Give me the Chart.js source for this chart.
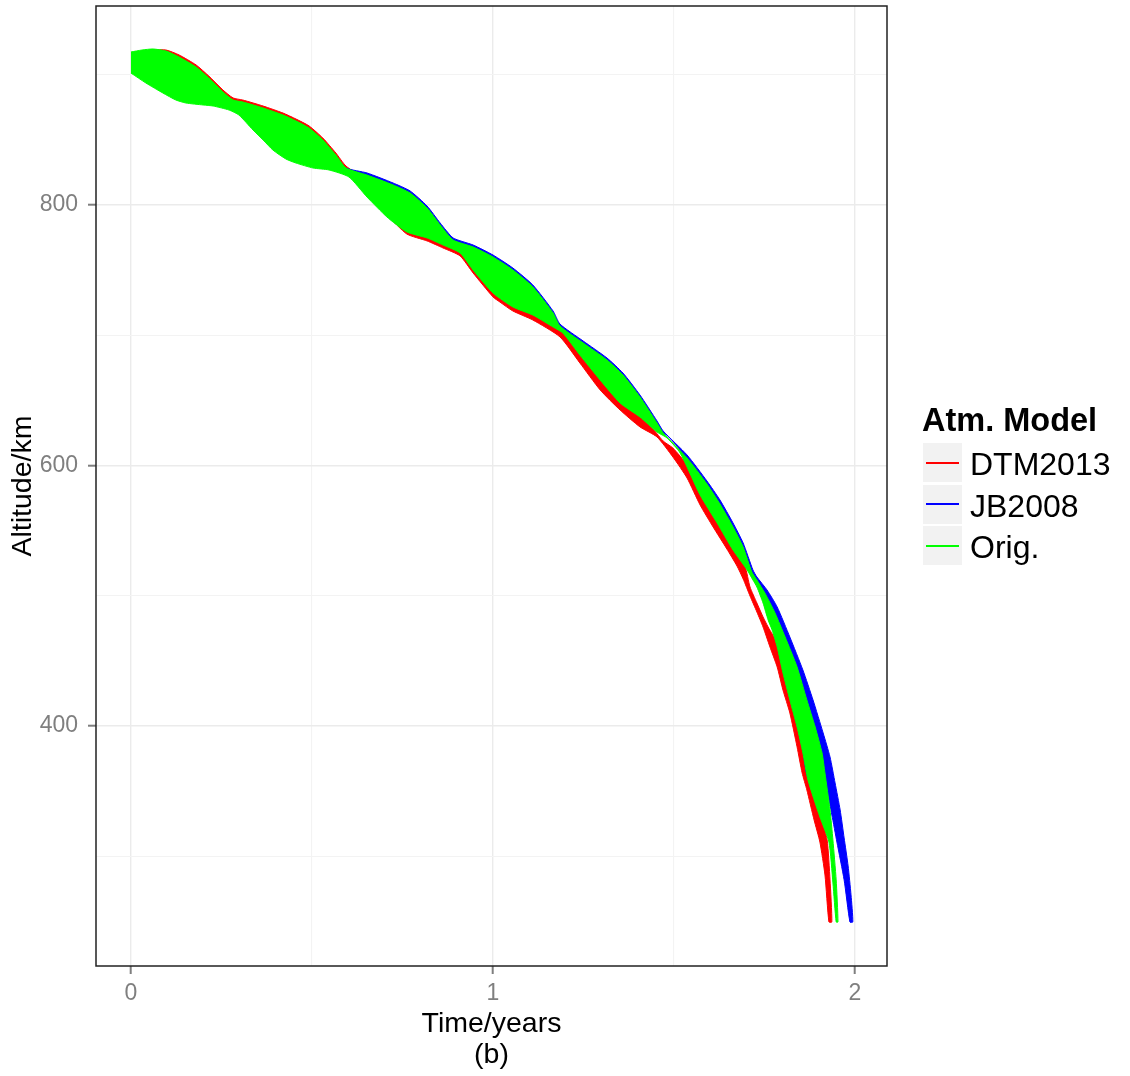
<!DOCTYPE html>
<html>
<head>
<meta charset="utf-8">
<script src="https://cdn.jsdelivr.net/npm/chart.js@4.4.1/dist/chart.umd.min.js"></script>
<style>
  html, body { margin: 0; padding: 0; background: #ffffff; }
  #wrap { position: relative; width: 1130px; height: 1076px; overflow: hidden; }
  #chart { position: absolute; left: 0; top: 0; }
  .lg { position: absolute; font-family: "Liberation Sans", Arial, sans-serif; color: #000; white-space: nowrap; }
  .lg-title { font-weight: bold; font-size: 32.5px; line-height: 32.5px; }
  .lg-key { position: absolute; background: #f2f2f2; }
  .lg-line { position: absolute; height: 2px; }
  .lg-text { font-size: 32px; line-height: 32px; }
</style>
</head>
<body>
<div id="wrap">
  <canvas id="chart" width="1130" height="1076"></canvas>
  <div id="legend"></div>
</div>
<script>
// Orbit decay envelopes (time in years, altitude in km) for each atmosphere model.
// Each envelope is given by its upper and lower edge.
const models = ['DTM2013', 'JB2008', 'Orig.'];
const modelColours = ['#ff0000', '#0000ff', '#00ff00'];

const dtmUpperT = [0,0.030,0.061,0.097,0.133,0.180,0.215,0.254,0.282,0.309,0.365,0.420,0.456,0.492,0.530,0.566,0.594,0.652,0.724,0.771,0.818,0.854,0.890,0.945,1.000,1.055,1.110,1.166,1.193,1.240,1.296,1.351,1.406,1.434,1.470,1.497,1.536,1.572,1.619,1.663,1.696,1.710,1.729,1.746,1.760,1.785,1.801,1.820,1.840,1.856,1.870,1.890,1.903,1.923,1.931,1.936];
const dtmUpperAlt = [916.7,918.2,919.0,919.0,915.2,907.5,899.0,888.3,882.2,880.6,876.0,870.6,866.0,860.7,851.4,839.9,829.9,819.2,807.7,800.0,784.7,777.0,769.3,756.2,738.6,727.1,719.4,710.2,704.0,688.7,669.5,651.8,641.1,631.1,618.8,613.4,600.4,581.2,559.7,539.0,522.8,506.7,494.4,483.7,476.0,463.7,444.5,423.8,403.1,383.1,361.6,344.7,334.0,312.5,281.8,249.5];
const dtmLowerT = [0,0.041,0.088,0.124,0.152,0.199,0.227,0.271,0.298,0.337,0.365,0.392,0.428,0.456,0.503,0.547,0.602,0.652,0.707,0.762,0.818,0.862,0.909,0.945,1.000,1.019,1.055,1.110,1.185,1.240,1.296,1.351,1.406,1.453,1.497,1.536,1.572,1.608,1.646,1.674,1.691,1.710,1.729,1.746,1.765,1.785,1.801,1.820,1.840,1.854,1.867,1.887,1.903,1.917,1.928];
const dtmLowerAlt = [902.1,895.2,887.5,882.2,879.9,878.3,877.5,874.5,870.6,859.1,851.4,843.8,836.9,833.8,829.9,828.4,823.0,807.7,792.3,777.7,772.4,767.0,760.9,747.8,729.4,725.5,718.6,711.7,698.7,678.7,658.0,642.6,629.6,621.9,606.5,590.4,569.7,552.8,535.9,522.8,512.9,499.8,487.5,476.0,460.7,445.3,427.6,410.0,383.9,363.9,350.9,327.8,310.9,285.6,249.5];

const jbUpperT = [0,0.030,0.061,0.097,0.133,0.180,0.215,0.254,0.282,0.309,0.365,0.420,0.456,0.492,0.530,0.566,0.594,0.652,0.724,0.771,0.818,0.854,0.890,0.945,1.000,1.055,1.110,1.166,1.185,1.249,1.315,1.359,1.406,1.453,1.470,1.536,1.591,1.627,1.663,1.691,1.718,1.729,1.757,1.785,1.820,1.856,1.884,1.912,1.931,1.945,1.959,1.970,1.981,1.989,1.994];
const jbUpperAlt = [915.9,917.5,918.2,916.7,912.1,904.4,896.0,885.2,879.1,877.5,872.9,867.6,863.0,857.6,848.4,836.9,828.4,824.6,816.9,810.8,799.2,786.2,774.7,769.3,761.6,751.6,738.6,718.6,708.6,695.6,682.5,671.0,654.1,634.2,626.5,608.1,588.1,573.5,555.9,540.5,519.8,514.4,504.4,491.4,468.3,443.0,420.0,394.6,376.2,356.2,335.5,314.0,292.5,270.3,249.5];
const jbLowerT = [0,0.041,0.088,0.124,0.152,0.199,0.227,0.271,0.298,0.337,0.365,0.392,0.428,0.456,0.503,0.547,0.602,0.652,0.707,0.762,0.818,0.862,0.909,0.945,1.000,1.055,1.110,1.166,1.193,1.240,1.296,1.351,1.406,1.453,1.481,1.517,1.572,1.619,1.663,1.702,1.718,1.729,1.746,1.760,1.771,1.785,1.801,1.820,1.840,1.856,1.870,1.920,1.936,1.950,1.970,1.986];
const jbLowerAlt = [903.3,895.7,888.0,882.6,880.3,878.8,878.0,874.9,871.1,859.6,851.9,844.2,837.3,834.2,830.4,828.9,823.5,808.1,792.8,781.3,776.7,771.3,765.2,752.1,734.4,723.7,717.5,708.3,703.7,686.8,667.6,650.0,639.2,627.7,623.1,611.6,579.4,557.9,537.1,521.8,514.1,508.7,496.4,483.4,475.7,462.7,442.7,422.0,401.2,381.3,360.5,350.9,331.7,310.9,281.8,249.5];

const origUpperT = [0,0.030,0.061,0.097,0.133,0.180,0.215,0.254,0.282,0.309,0.365,0.420,0.456,0.492,0.530,0.566,0.594,0.652,0.724,0.771,0.818,0.854,0.890,0.945,1.000,1.055,1.110,1.166,1.185,1.249,1.315,1.359,1.406,1.453,1.470,1.536,1.591,1.627,1.663,1.691,1.715,1.729,1.751,1.779,1.807,1.840,1.867,1.890,1.909,1.917,1.931,1.939,1.948,1.953];
const origUpperAlt = [917.5,919.0,919.8,918.2,913.6,905.9,897.5,886.8,880.6,879.1,874.5,869.1,864.5,859.1,849.9,838.4,828.4,823.0,815.4,809.2,797.7,784.7,773.1,767.8,760.1,750.1,737.1,717.1,707.1,694.1,681.0,669.5,652.6,632.6,625.0,605.8,585.8,570.4,552.8,537.4,518.2,512.1,502.1,486.8,468.3,445.3,420.0,399.2,379.3,363.9,335.5,312.5,281.8,249.5];
const origLowerT = [0,0.041,0.088,0.124,0.152,0.199,0.227,0.271,0.298,0.337,0.365,0.392,0.428,0.456,0.503,0.547,0.602,0.652,0.707,0.762,0.818,0.862,0.909,0.945,1.000,1.055,1.110,1.166,1.193,1.240,1.296,1.351,1.406,1.453,1.481,1.517,1.572,1.619,1.663,1.702,1.718,1.729,1.746,1.760,1.771,1.785,1.801,1.820,1.840,1.856,1.870,1.903,1.928,1.939,1.948];
const origLowerAlt = [901.3,893.7,886.0,880.6,878.3,876.8,876.0,872.9,869.1,857.6,849.9,842.2,835.3,832.2,828.4,826.9,821.5,806.1,790.8,779.3,774.7,769.3,763.2,750.1,732.4,721.7,715.5,706.3,701.7,684.8,665.6,648.0,637.2,625.7,621.1,609.6,577.4,555.9,535.1,519.8,512.1,506.7,494.4,481.4,473.7,460.7,440.7,420.0,399.2,379.3,358.5,330.1,310.9,279.5,249.5];

// Axis ticks
const xTicks = [0, 0.5, 1, 1.5, 2];
const xTickLabels = ['0', '', '1', '', '2'];
const yTicks = [300, 400, 500, 600, 700, 800, 900];
const yTickLabels = ['', '400', '', '600', '', '800', ''];

// Closed outline: along the upper edge, then back along the lower edge.
function envelope(upT, upA, loT, loA) {
  const pts = upT.map((t, i) => ({ x: t, y: upA[i] }));
  for (let i = loT.length - 1; i >= 0; i--) pts.push({ x: loT[i], y: loA[i] });
  return pts;
}

const envelopes = [
  envelope(dtmUpperT, dtmUpperAlt, dtmLowerT, dtmLowerAlt),
  envelope(jbUpperT, jbUpperAlt, jbLowerT, jbLowerAlt),
  envelope(origUpperT, origUpperAlt, origLowerT, origLowerAlt)
];

const MAJOR_GRID = '#ebebeb';
const MINOR_GRID = '#f3f3f3';
const TICK_GREY = '#7f7f7f';
const FONT = '"Liberation Sans", Arial, sans-serif';

Chart.defaults.font.family = FONT;

const panelFrame = {
  id: 'panelFrame',
  afterDraw(chart) {
    const { ctx, chartArea: a } = chart;
    ctx.save();
    ctx.strokeStyle = '#222222';
    ctx.lineWidth = 1.5;
    ctx.strokeRect(a.left, a.top, a.right - a.left, a.bottom - a.top);
    ctx.restore();
  }
};

new Chart(document.getElementById('chart'), {
  type: 'line',
  data: {
    datasets: models.map((m, i) => ({
      label: m,
      data: envelopes[i],
      borderColor: modelColours[i],
      backgroundColor: modelColours[i],
      borderWidth: 1,
      borderJoinStyle: 'round',
      pointRadius: 0,
      tension: 0.2,
      fill: 'shape',
      order: models.length - 1 - i
    }))
  },
  options: {
    responsive: false,
    animation: false,
    events: [],
    layout: { padding: { left: 0, top: 6, right: 243, bottom: 0 } },
    plugins: { legend: { display: false }, tooltip: { enabled: false }, title: { display: false } },
    scales: {
      x: {
        type: 'linear',
        min: -0.0967,
        max: 2.0884,
        afterBuildTicks: s => { s.ticks = xTicks.map(v => ({ value: v })); },
        afterFit: s => { s.height = 110; s.paddingLeft = 0; s.paddingRight = 0; },
        ticks: {
          color: TICK_GREY,
          font: { size: 23 },
          padding: 6,
          maxRotation: 0,
          autoSkip: false,
          callback: (v, i) => xTickLabels[i]
        },
        grid: {
          color: c => (xTickLabels[c.index] ? MAJOR_GRID : MINOR_GRID),
          lineWidth: c => (xTickLabels[c.index] ? 1.4 : 1.1),
          tickColor: c => (xTickLabels[c.index] ? TICK_GREY : 'rgba(0,0,0,0)'),
          tickLength: 8,
          tickWidth: 2
        },
        border: { display: false },
        title: {
          display: true,
          text: ['Time/years', '(b)'],
          color: '#000000',
          font: { size: 28.5, lineHeight: 1.09 },
          padding: { top: 0, bottom: 5.5 }
        }
      },
      y: {
        type: 'linear',
        min: 215.7,
        max: 952.8,
        afterBuildTicks: s => { s.ticks = yTicks.map(v => ({ value: v })); },
        afterFit: s => { s.width = 96; s.paddingTop = 0; s.paddingBottom = 0; },
        ticks: {
          color: TICK_GREY,
          font: { size: 23 },
          padding: 10,
          autoSkip: false,
          callback: (v, i) => yTickLabels[i]
        },
        grid: {
          color: c => (yTickLabels[c.index] ? MAJOR_GRID : MINOR_GRID),
          lineWidth: c => (yTickLabels[c.index] ? 1.4 : 1.1),
          tickColor: c => (yTickLabels[c.index] ? TICK_GREY : 'rgba(0,0,0,0)'),
          tickLength: 8,
          tickWidth: 2
        },
        border: { display: false },
        title: {
          display: true,
          text: 'Altitude/km',
          color: '#000000',
          font: { size: 28.5, lineHeight: 1.2 },
          padding: { top: 6, bottom: 0 }
        }
      }
    }
  },
  plugins: [panelFrame]
});

// Legend: "Atm. Model" with a line key for each model
(function buildLegend() {
  const box = document.getElementById('legend');
  const title = document.createElement('div');
  title.className = 'lg lg-title';
  title.style.left = '922px';
  title.style.top = '404px';
  title.textContent = 'Atm. Model';
  box.appendChild(title);
  models.forEach((m, i) => {
    const top = 443 + i * 41.7;
    const key = document.createElement('div');
    key.className = 'lg-key';
    key.style.left = '923px';
    key.style.top = top + 'px';
    key.style.width = '39px';
    key.style.height = '39px';
    const ln = document.createElement('div');
    ln.className = 'lg-line';
    ln.style.left = '3px';
    ln.style.width = '33px';
    ln.style.top = '18.5px';
    ln.style.background = modelColours[i];
    key.appendChild(ln);
    box.appendChild(key);
    const txt = document.createElement('div');
    txt.className = 'lg lg-text';
    txt.style.left = '970px';
    txt.style.top = (top + 5) + 'px';
    txt.textContent = m;
    box.appendChild(txt);
  });
})();
</script>
</body>
</html>
